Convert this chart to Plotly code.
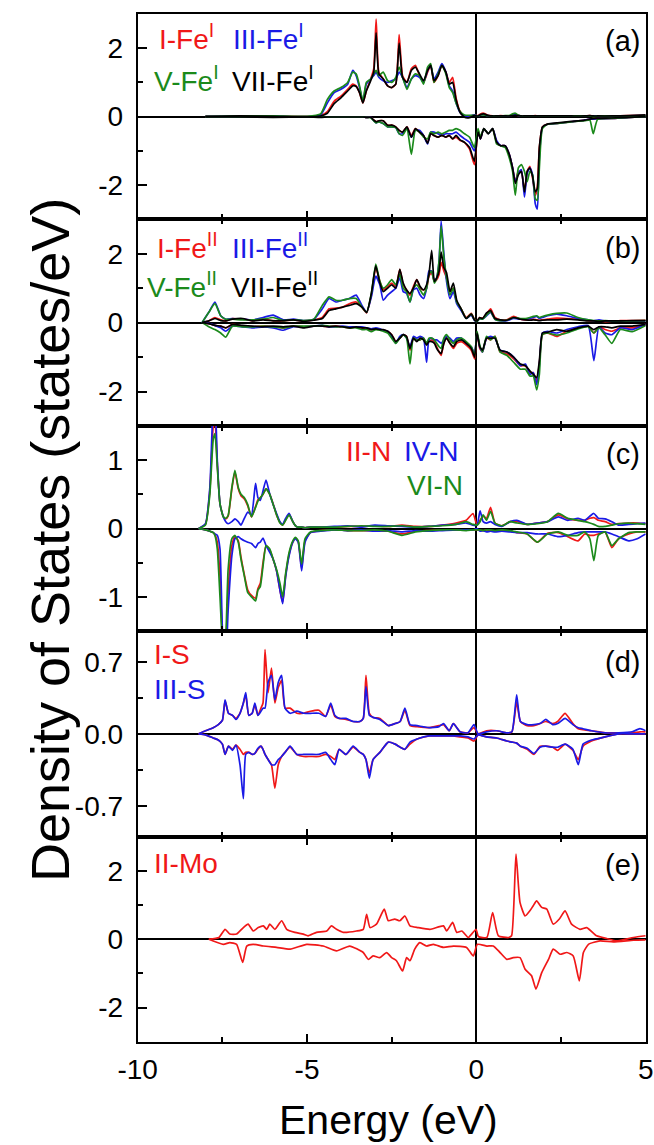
import plotly.graph_objects as go

# ---------------- data: panel (a) Fe^I ----------------
E_a = [-8.0, -7.0, -6.0, -5.0,
       -4.6, -4.4, -4.2, -4.0,
       -3.8, -3.65, -3.55, -3.45, -3.35, -3.25,
       -3.12, -3.03, -2.96, -2.88, -2.75, -2.62,
       -2.5, -2.38, -2.28, -2.18, -2.05, -1.92,
       -1.8, -1.68, -1.56, -1.44, -1.35, -1.25,
       -1.13, -1.02, -0.9, -0.8, -0.7, -0.6,
       -0.48, -0.35, -0.2, -0.06, 0.05, 0.12,
       0.22, 0.35, 0.48, 0.6, 0.72, 0.85,
       0.97, 1.07, 1.15, 1.24, 1.33, 1.42,
       1.5, 1.58, 1.66, 1.74, 1.8, 1.86,
       1.95, 2.1, 2.4, 2.8, 3.2, 3.35,
       3.45, 3.58, 4.0, 4.5, 5.0]
a_up_I = [0.0, 0.02, 0.02, 0.01,
          0.03, 0.15, 0.45, 0.6,
          0.8, 0.95, 0.9, 0.7, 0.4, 0.75,
          1.1, 1.4, 2.85, 1.3, 1.1, 0.9,
          0.85, 0.95, 2.4, 1.2, 1.0, 1.4,
          1.5, 1.2, 1.0, 1.3, 1.5, 1.0,
          1.2, 1.5, 1.3, 1.0, 1.15, 0.55,
          0.15, 0.02, 0.0, 0.05, 0.03, 0.08,
          0.1, 0.04, 0.02, 0.02, 0.03, 0.02,
          0.02, 0.04, 0.05, 0.03, 0.02, 0.02,
          0.02, 0.02, 0.02, 0.03, 0.02, 0.02,
          0.02, 0.02, 0.02, 0.02, 0.02, 0.03,
          0.02, 0.02, 0.02, 0.03, 0.04]
a_up_VII = [0.0, 0.02, 0.01, -0.01,
            0.02, 0.1, 0.38, 0.55,
            0.75, 0.9, 0.88, 0.7, 0.4, 0.75,
            1.05, 1.3, 2.45, 1.25, 1.1, 0.9,
            0.85, 0.95, 2.15, 1.15, 1.0, 1.35,
            1.45, 1.25, 1.05, 1.35, 1.5, 1.05,
            1.2, 1.5, 1.3, 0.95, 1.0, 0.5,
            0.12, -0.02, -0.03, 0.03, 0.02, 0.06,
            0.08, 0.03, 0.02, 0.02, 0.02, 0.02,
            0.02, 0.03, 0.04, 0.03, 0.02, 0.02,
            0.02, 0.02, 0.02, 0.02, 0.02, 0.02,
            0.02, 0.02, 0.02, 0.02, 0.02, 0.03,
            0.02, 0.02, 0.02, 0.03, 0.05]
a_up_III = [0.0, 0.02, 0.02, 0.0,
            0.05, 0.4, 0.7, 0.8,
            0.95, 1.35, 1.2, 0.85, 0.45, 0.95,
            1.1, 1.2, 1.3, 1.15, 1.05, 1.0,
            1.05, 1.1, 1.3, 1.15, 0.85, 1.1,
            1.2, 1.15, 1.0, 1.35, 1.5, 1.1,
            1.3, 1.55, 1.3, 0.9, 0.75, 0.4,
            0.12, 0.02, 0.02, 0.05, 0.02, 0.05,
            0.05, 0.03, 0.02, 0.02, 0.02, 0.02,
            0.02, 0.04, 0.06, 0.03, 0.02, 0.02,
            0.02, 0.02, 0.02, 0.02, 0.02, 0.02,
            0.02, 0.02, 0.02, 0.02, 0.02, 0.02,
            0.02, 0.02, 0.02, 0.02, 0.03]
a_up_V = [0.0, 0.02, 0.02, 0.01,
          0.08, 0.5, 0.75, 0.85,
          1.0, 1.3, 1.25, 0.9, 0.45, 1.0,
          1.1, 1.25, 1.35, 1.2, 1.3, 1.05,
          1.0, 1.15, 1.45, 1.15, 0.8, 1.1,
          1.25, 1.2, 0.95, 1.45, 1.55, 1.0,
          1.25, 1.5, 1.25, 0.85, 0.7, 0.4,
          0.15, 0.05, 0.04, 0.04, 0.02, 0.05,
          0.05, 0.03, 0.02, 0.02, 0.02, 0.03,
          0.03, 0.08, 0.1, 0.04, 0.02, 0.02,
          0.02, 0.02, 0.02, 0.02, 0.02, 0.02,
          0.02, 0.02, 0.02, 0.02, 0.02, 0.02,
          0.0, 0.02, 0.02, 0.02, 0.02]
a_dn_I = [0.0, -0.01, -0.01, -0.01,
          -0.01, -0.01, -0.01, -0.01,
          -0.01, -0.01, -0.01, -0.01, -0.01, -0.02,
          -0.02, -0.1, -0.15, -0.12, -0.12, -0.25,
          -0.25, -0.3, -0.4, -0.45, -0.3, -0.55,
          -0.35, -0.45, -0.55, -0.75, -0.5, -0.55,
          -0.6, -0.55, -0.6, -0.55, -0.65, -0.6,
          -0.7, -0.75, -0.95, -1.4, -0.4, -0.65,
          -0.35, -0.5, -0.35, -0.75, -0.85, -0.85,
          -1.1, -1.5, -1.9, -1.6, -1.6, -2.2,
          -1.6, -1.45, -1.8, -2.3, -2.05, -0.9,
          -0.3, -0.22, -0.2, -0.15, -0.1, -0.07,
          -0.06, -0.06, -0.05, -0.02, 0.0]
a_dn_VII = [0.0, -0.01, -0.02, -0.01,
            -0.02, -0.01, -0.01, -0.01,
            -0.01, -0.01, -0.01, -0.01, -0.01, -0.02,
            -0.02, -0.1, -0.15, -0.12, -0.12, -0.25,
            -0.25, -0.3, -0.4, -0.45, -0.3, -0.6,
            -0.35, -0.45, -0.55, -0.78, -0.5, -0.55,
            -0.6, -0.55, -0.6, -0.55, -0.65, -0.55,
            -0.68, -0.75, -0.9, -1.3, -0.45, -0.65,
            -0.35, -0.5, -0.35, -0.75, -0.85, -0.85,
            -1.1, -1.5, -1.95, -1.7, -1.6, -2.2,
            -1.6, -1.5, -1.75, -2.2, -2.1, -0.9,
            -0.3, -0.22, -0.18, -0.14, -0.1, -0.07,
            -0.06, -0.05, -0.04, -0.02, 0.0]
a_dn_III = [0.0, -0.01, -0.01, -0.01,
            -0.01, -0.01, -0.01, -0.01,
            -0.01, -0.01, -0.01, -0.01, -0.01, -0.02,
            -0.02, -0.12, -0.18, -0.15, -0.2, -0.3,
            -0.3, -0.32, -0.5, -0.5, -0.32, -0.6,
            -0.4, -0.4, -0.55, -0.8, -0.45, -0.45,
            -0.5, -0.55, -0.5, -0.5, -0.5, -0.45,
            -0.55, -0.65, -0.75, -1.0, -0.45, -0.65,
            -0.35, -0.5, -0.35, -0.7, -0.85, -0.85,
            -1.1, -1.5, -1.9, -1.65, -1.55, -2.35,
            -1.65, -1.5, -1.7, -2.55, -2.7, -1.2,
            -0.32, -0.22, -0.2, -0.15, -0.1, -0.07,
            -0.07, -0.06, -0.05, -0.02, 0.0]
a_dn_V = [0.0, -0.01, -0.01, -0.01,
          -0.01, -0.01, -0.01, -0.01,
          -0.01, -0.01, -0.01, -0.01, -0.01, -0.02,
          -0.03, -0.12, -0.18, -0.15, -0.2, -0.3,
          -0.3, -0.32, -0.5, -0.55, -0.35, -1.1,
          -0.4, -0.45, -0.6, -0.65, -0.45, -0.5,
          -0.45, -0.5, -0.45, -0.4, -0.4, -0.35,
          -0.4, -0.5, -0.6, -0.9, -0.35, -0.6,
          -0.35, -0.5, -0.35, -0.8, -0.85, -0.9,
          -1.2, -1.6, -2.3, -1.5, -1.4, -1.6,
          -1.9, -1.6, -1.7, -2.4, -2.45, -1.5,
          -0.35, -0.22, -0.2, -0.15, -0.12, -0.1,
          -0.5, -0.08, -0.05, -0.02, 0.0]

# ---------------- data: panel (b) Fe^II ----------------
E_b = [-8.1, -7.9, -7.72, -7.55, -7.4, -7.2,
       -6.9, -6.6, -6.3, -6.0, -5.7, -5.4,
       -5.1, -4.8, -4.55, -4.35, -4.15, -3.95,
       -3.75, -3.55, -3.38, -3.24, -3.1, -2.97,
       -2.85, -2.75, -2.62, -2.5, -2.38, -2.26,
       -2.16, -2.06, -1.96, -1.86, -1.76, -1.66,
       -1.56, -1.47, -1.4, -1.32, -1.24, -1.17,
       -1.1, -1.04, -0.96, -0.88, -0.78, -0.68,
       -0.58, -0.45, -0.3, -0.15, -0.05, 0.02,
       0.1, 0.18, 0.3, 0.42, 0.55, 0.7,
       0.9, 1.1, 1.3, 1.45, 1.58, 1.68,
       1.78, 1.86, 1.95, 2.1, 2.37, 2.67,
       3.0, 3.3, 3.47, 3.62, 3.8, 4.0,
       4.25, 4.6, 5.0]
b_up_I = [0.0, 0.05, 0.15, 0.08, 0.05, 0.12,
          0.1, 0.06, 0.1, 0.06, 0.05, 0.08,
          0.05, 0.08, 0.15, 0.4, 0.42, 0.45,
          0.55, 0.6, 0.45, 0.28, 0.8, 1.6,
          1.2, 0.95, 1.05, 1.15, 1.05, 1.55,
          1.1, 0.95, 0.8, 1.05, 1.25, 1.0,
          0.95, 1.0, 1.35, 1.45, 1.2, 1.25,
          1.4, 1.75, 1.5, 1.3, 0.9, 1.0,
          0.6, 0.4, 0.15, 0.27, 0.08, 0.05,
          0.15, 0.12, 0.25, 0.4, 0.15, 0.08,
          0.08, 0.18, 0.1, 0.08, 0.08, 0.1,
          0.08, 0.07, 0.08, 0.1, 0.13, 0.12,
          0.1, 0.06, 0.05, 0.05, 0.03, 0.04,
          0.06, 0.06, 0.07]
b_up_VII = [0.0, 0.05, 0.12, 0.06, 0.05, 0.1,
            0.12, 0.05, 0.08, 0.05, 0.06, 0.08,
            0.04, 0.07, 0.12, 0.35, 0.4, 0.45,
            0.5, 0.55, 0.45, 0.3, 0.85, 1.65,
            1.15, 0.9, 1.0, 1.1, 1.0, 1.55,
            1.15, 0.95, 0.85, 1.0, 1.25, 1.05,
            0.95, 1.1, 1.4, 2.1, 1.2, 1.3,
            1.5, 2.05, 1.6, 1.45, 0.9, 1.15,
            0.65, 0.4, 0.12, 0.25, 0.07, 0.05,
            0.15, 0.12, 0.28, 0.35, 0.12, 0.08,
            0.07, 0.15, 0.1, 0.08, 0.07, 0.08,
            0.07, 0.06, 0.07, 0.08, 0.08, 0.1,
            0.08, 0.05, 0.05, 0.04, 0.05, 0.05,
            0.05, 0.06, 0.06]
b_up_III = [0.0, 0.3, 0.6, 0.2, 0.1, 0.12,
            0.1, 0.08, 0.15, 0.22, 0.08, 0.1,
            0.06, 0.1, 0.4, 0.7, 0.6, 0.65,
            0.7, 0.8, 0.5, 0.3, 0.75, 1.35,
            1.1, 0.65, 0.8, 0.9, 1.0, 1.3,
            0.9, 0.85, 0.6, 0.95, 1.0, 0.8,
            0.7, 1.0, 1.5, 1.5, 1.2, 1.3,
            1.8, 2.95, 2.0, 1.2, 0.7, 0.9,
            0.55, 0.35, 0.12, 0.22, 0.06, 0.04,
            0.12, 0.1, 0.2, 0.3, 0.1, 0.06,
            0.06, 0.12, 0.1, 0.1, 0.12, 0.15,
            0.18, 0.12, 0.15, 0.2, 0.25, 0.2,
            0.12, 0.08, 0.05, 0.08, 0.05, 0.04,
            0.05, 0.05, 0.05]
b_up_V = [0.0, 0.3, 0.55, 0.2, 0.1, 0.1,
          0.08, 0.08, 0.1, 0.15, 0.06, 0.08,
          0.06, 0.1, 0.5, 0.75, 0.65, 0.65,
          0.7, 0.7, 0.45, 0.3, 0.85, 1.7,
          1.2, 1.0, 1.1, 1.25, 1.1, 1.4,
          1.0, 0.9, 0.6, 1.0, 1.1, 0.95,
          0.8, 1.0, 1.4, 1.5, 1.15, 1.3,
          1.8, 2.8, 1.9, 1.3, 0.8, 1.0,
          0.6, 0.4, 0.12, 0.25, 0.07, 0.04,
          0.12, 0.1, 0.22, 0.32, 0.1, 0.06,
          0.07, 0.15, 0.12, 0.12, 0.15, 0.18,
          0.2, 0.15, 0.18, 0.22, 0.27, 0.28,
          0.15, 0.08, 0.06, 0.05, 0.06, 0.05,
          0.05, 0.05, 0.06]
b_dn_I = [0.0, -0.03, -0.08, -0.1, -0.15, -0.05,
          -0.1, -0.12, -0.1, -0.12, -0.15, -0.1,
          -0.12, -0.1, -0.1, -0.12, -0.1, -0.12,
          -0.15, -0.12, -0.15, -0.18, -0.2, -0.18,
          -0.2, -0.22, -0.25, -0.35, -0.55, -0.45,
          -0.35, -0.4, -0.8, -0.45, -0.5, -0.5,
          -0.45, -0.6, -0.55, -0.5, -0.55, -0.7,
          -0.85, -0.95, -0.6, -0.45, -0.6, -0.75,
          -0.6, -0.55, -0.65, -0.8, -1.05, -0.3,
          -0.75, -0.85, -0.45, -0.5, -0.4, -0.85,
          -0.9, -1.05, -1.25, -1.25, -1.45, -1.45,
          -1.7, -1.2, -0.35, -0.3, -0.4, -0.25,
          -0.15, -0.1, -0.3, -0.12, -0.2, -0.25,
          -0.15, -0.15, -0.05]
b_dn_VII = [0.0, -0.03, -0.08, -0.1, -0.15, -0.05,
            -0.08, -0.1, -0.12, -0.1, -0.12, -0.1,
            -0.15, -0.1, -0.1, -0.12, -0.1, -0.12,
            -0.15, -0.12, -0.15, -0.15, -0.2, -0.18,
            -0.2, -0.2, -0.25, -0.35, -0.55, -0.45,
            -0.35, -0.4, -0.75, -0.45, -0.55, -0.45,
            -0.5, -0.65, -0.55, -0.55, -0.6, -0.75,
            -0.85, -0.9, -0.6, -0.45, -0.6, -0.7,
            -0.55, -0.5, -0.6, -0.75, -1.0, -0.3,
            -0.7, -0.8, -0.45, -0.45, -0.45, -0.8,
            -0.85, -1.0, -1.2, -1.25, -1.4, -1.5,
            -1.6, -1.1, -0.3, -0.28, -0.2, -0.25,
            -0.15, -0.1, -0.2, -0.12, -0.12, -0.15,
            -0.1, -0.1, -0.05]
b_dn_III = [0.0, -0.02, -0.08, -0.15, -0.25, -0.1,
            -0.12, -0.15, -0.12, -0.15, -0.22, -0.12,
            -0.12, -0.1, -0.08, -0.12, -0.12, -0.1,
            -0.12, -0.12, -0.12, -0.15, -0.18, -0.15,
            -0.18, -0.22, -0.25, -0.4, -0.6, -0.4,
            -0.35, -0.45, -0.7, -0.4, -0.45, -0.4,
            -0.45, -1.15, -0.5, -0.45, -0.5, -0.5,
            -0.55, -0.6, -0.5, -0.4, -0.45, -0.55,
            -0.45, -0.45, -0.6, -0.7, -0.9, -0.3,
            -0.7, -0.85, -0.45, -0.4, -0.45, -0.8,
            -0.85, -1.0, -1.25, -1.2, -1.5, -1.45,
            -1.8, -1.25, -0.3, -0.25, -0.3, -0.2,
            -0.12, -0.08, -1.1, -0.12, -0.3, -0.35,
            -0.15, -0.2, -0.05]
b_dn_V = [0.0, -0.12, -0.2, -0.3, -0.42, -0.1,
          -0.12, -0.12, -0.1, -0.12, -0.15, -0.1,
          -0.1, -0.1, -0.08, -0.1, -0.12, -0.12,
          -0.15, -0.15, -0.2, -0.2, -0.26, -0.2,
          -0.22, -0.25, -0.3, -0.45, -0.6, -0.45,
          -0.35, -0.45, -1.2, -0.45, -0.5, -0.5,
          -0.45, -0.6, -0.45, -0.45, -0.5, -0.6,
          -0.7, -0.75, -0.45, -0.35, -0.5, -0.6,
          -0.5, -0.45, -0.55, -0.7, -0.95, -0.25,
          -0.65, -0.85, -0.4, -0.5, -0.4, -0.85,
          -0.95, -1.15, -1.35, -1.35, -1.55, -1.55,
          -1.95, -1.5, -0.35, -0.3, -0.36, -0.3,
          -0.18, -0.12, -0.3, -0.15, -0.35, -0.6,
          -0.2, -0.26, -0.08]

# ---------------- data: panel (c) N ----------------
E_c = [-8.2, -8.0, -7.87, -7.77, -7.72, -7.65,
       -7.57, -7.47, -7.4, -7.33, -7.22, -7.13,
       -7.03, -6.95, -6.85, -6.75, -6.64, -6.52,
       -6.45, -6.38, -6.3, -6.21, -6.1, -6.0,
       -5.9, -5.8, -5.72, -5.63, -5.53, -5.42,
       -5.34, -5.26, -5.16, -5.06, -4.9, -4.6,
       -4.2, -3.8, -3.4, -3.0, -2.6, -2.2,
       -1.8, -1.4, -1.0, -0.6, -0.3, -0.1,
       0.02, 0.11, 0.2, 0.3, 0.42, 0.55,
       0.75, 1.0, 1.2, 1.5, 1.8, 2.1,
       2.42, 2.7, 3.0, 3.2, 3.35, 3.47,
       3.6, 3.8, 4.0, 4.2, 4.5, 4.75,
       5.0]
c_up_II = [0.0, 0.06, 0.55, 1.5, 1.6, 0.95,
           0.36, 0.17, 0.14, 0.18, 0.58, 0.83,
           0.58, 0.48, 0.43, 0.33, 0.17, 0.32,
           0.42, 0.45, 0.5, 0.58, 0.5, 0.36,
           0.2, 0.09, 0.05, 0.13, 0.21, 0.1,
           0.04, 0.02, 0.02, 0.01, 0.02, 0.02,
           0.02, 0.03, 0.03, 0.04, 0.03, 0.05,
           0.03, 0.03, 0.05, 0.08, 0.12, 0.22,
           0.05, 0.12, 0.18, 0.15, 0.31, 0.08,
           0.04, 0.1, 0.1, 0.06, 0.08, 0.1,
           0.2, 0.14, 0.12, 0.12, 0.15, 0.16,
           0.12, 0.1, 0.06, 0.07, 0.08, 0.08,
           0.07]
c_up_IV = [0.0, 0.07, 0.6, 1.8, 1.9, 1.0,
           0.36, 0.17, 0.1, 0.07, 0.1, 0.14,
           0.1, 0.05, 0.15, 0.24, 0.2, 0.66,
           0.45, 0.41, 0.55, 0.71, 0.5, 0.35,
           0.22, 0.1, 0.06, 0.15, 0.22, 0.1,
           0.04, 0.02, 0.02, 0.01, 0.02, 0.02,
           0.03, 0.04, 0.02, 0.05, 0.04, 0.03,
           0.02, 0.03, 0.05, 0.06, 0.08, 0.05,
           0.05, 0.26, 0.1, 0.08, 0.1, 0.06,
           0.03, 0.1, 0.12, 0.06, 0.08, 0.1,
           0.17, 0.12, 0.15, 0.12, 0.18, 0.22,
           0.15, 0.14, 0.1, 0.05, 0.06, 0.07,
           0.08]
c_up_VI = [0.0, 0.05, 0.5, 1.3, 1.39, 0.9,
           0.36, 0.17, 0.15, 0.19, 0.6, 0.85,
           0.6, 0.5, 0.45, 0.35, 0.17, 0.31,
           0.4, 0.45, 0.5, 0.58, 0.5, 0.35,
           0.2, 0.08, 0.05, 0.12, 0.2, 0.1,
           0.04, 0.02, 0.02, 0.01, 0.02, 0.02,
           0.02, 0.03, 0.04, 0.03, 0.03, 0.04,
           0.02, 0.03, 0.04, 0.06, 0.1, 0.06,
           0.05, 0.1, 0.2, 0.12, 0.25, 0.08,
           0.04, 0.1, 0.08, 0.06, 0.07, 0.1,
           0.22, 0.15, 0.12, 0.1, 0.08, 0.06,
           0.03, 0.03, 0.05, 0.07, 0.08, 0.07,
           0.06]
c_dn_II = [0.0, -0.02, -0.04, -0.06, -0.09, -0.2,
           -0.7, -1.85, -1.7, -0.9, -0.25, -0.12,
           -0.18, -0.42, -0.68, -0.9, -0.98, -1.02,
           -0.88, -0.8, -0.5, -0.25, -0.32, -0.45,
           -0.62, -0.9, -1.08, -0.68, -0.38, -0.2,
           -0.14, -0.19, -0.58, -0.18, -0.06, -0.03,
           -0.02, -0.03, -0.03, -0.03, -0.04, -0.08,
           -0.04, -0.03, -0.02, -0.02, -0.02, -0.02,
           -0.02, -0.03, -0.03, -0.02, -0.03, -0.04,
           -0.03, -0.04, -0.06, -0.08, -0.2, -0.07,
           -0.06, -0.12, -0.18, -0.08, -0.1, -0.1,
           -0.08, -0.05, -0.28, -0.15, -0.08, -0.05,
           -0.05]
c_dn_IV = [0.0, -0.02, -0.04, -0.06, -0.08, -0.1,
           -0.3, -1.8, -1.9, -1.2, -0.4, -0.15,
           -0.12, -0.15, -0.18, -0.2, -0.22, -0.28,
           -0.22, -0.2, -0.14, -0.25, -0.35, -0.45,
           -0.62, -0.9, -1.1, -0.7, -0.4, -0.2,
           -0.15, -0.2, -0.62, -0.2, -0.06, -0.04,
           -0.02, -0.03, -0.02, -0.04, -0.03, -0.05,
           -0.03, -0.04, -0.03, -0.02, -0.02, -0.02,
           0.0, -0.04, -0.03, -0.05, -0.04, -0.05,
           -0.04, -0.05, -0.06, -0.06, -0.08, -0.08,
           -0.12, -0.1, -0.06, -0.05, -0.05, -0.05,
           -0.05, -0.05, -0.08, -0.12, -0.18, -0.15,
           -0.08]
c_dn_VI = [0.0, -0.02, -0.04, -0.06, -0.1, -0.3,
           -1.0, -1.9, -1.6, -0.6, -0.15, -0.1,
           -0.2, -0.45, -0.7, -0.94, -1.0, -1.06,
           -0.9, -0.85, -0.55, -0.25, -0.3, -0.45,
           -0.6, -0.8, -1.0, -0.65, -0.35, -0.18,
           -0.13, -0.18, -0.52, -0.15, -0.05, -0.03,
           -0.02, -0.03, -0.03, -0.02, -0.04, -0.1,
           -0.05, -0.03, -0.02, -0.02, -0.03, -0.02,
           -0.02, -0.02, -0.03, -0.02, -0.02, -0.03,
           -0.02, -0.03, -0.05, -0.08, -0.2, -0.08,
           -0.05, -0.1, -0.1, -0.05, -0.15, -0.47,
           -0.1, -0.05, -0.25, -0.15, -0.06, -0.05,
           -0.05]

# ---------------- data: panel (d) S ----------------
E_d = [-8.2, -8.0, -7.77, -7.62, -7.5, -7.42,
       -7.32, -7.2, -7.1, -6.98, -6.88, -6.81,
       -6.72, -6.62, -6.54, -6.45, -6.36, -6.3,
       -6.24, -6.15, -6.05, -5.95, -5.85, -5.75,
       -5.65, -5.5, -5.3, -5.1, -4.9, -4.65,
       -4.45, -4.3, -4.18, -4.05, -3.85, -3.64,
       -3.44, -3.34, -3.26, -3.16, -3.05, -2.85,
       -2.6, -2.4, -2.25, -2.11, -1.96, -1.75,
       -1.4, -1.1, -0.97, -0.8, -0.68, -0.48,
       -0.25, -0.07, 0.05, 0.3, 0.6, 0.9,
       1.05, 1.19, 1.3, 1.5, 1.7, 1.88,
       2.05, 2.25, 2.4, 2.62, 2.85, 3.01,
       3.15, 3.4, 3.8, 4.2, 4.6, 4.83,
       5.0]
d_up_I = [0.0, 0.03, 0.06, 0.09, 0.13, 0.32,
          0.2, 0.18, 0.15, 0.2, 0.3, 0.38,
          0.18, 0.2, 0.28, 0.18, 0.25, 0.3,
          0.82, 0.4, 0.64, 0.3, 0.45, 0.52,
          0.25, 0.25, 0.2, 0.2, 0.22, 0.23,
          0.17, 0.28, 0.17, 0.15, 0.14, 0.12,
          0.12, 0.15, 0.57, 0.2, 0.16, 0.15,
          0.08, 0.1, 0.12, 0.23, 0.08, 0.07,
          0.06, 0.08, 0.09, 0.03, 0.1, 0.02,
          0.01, 0.06, 0.0, 0.03, 0.03, 0.01,
          0.02, 0.31, 0.12, 0.08, 0.08, 0.1,
          0.12, 0.1, 0.12, 0.2, 0.1, 0.05,
          0.04, 0.03, 0.01, 0.01, 0.01, 0.02,
          0.02]
d_up_III = [0.0, 0.03, 0.06, 0.09, 0.13, 0.33,
            0.2, 0.18, 0.14, 0.2, 0.3, 0.4,
            0.18, 0.2, 0.3, 0.18, 0.22, 0.25,
            0.25, 0.5, 0.57, 0.33, 0.5, 0.57,
            0.25, 0.2, 0.22, 0.2, 0.2, 0.2,
            0.17, 0.3, 0.18, 0.15, 0.15, 0.12,
            0.12, 0.15, 0.46, 0.18, 0.16, 0.14,
            0.08, 0.1, 0.12, 0.25, 0.09, 0.08,
            0.06, 0.07, 0.1, 0.03, 0.1, 0.02,
            0.01, 0.09, 0.0, 0.02, 0.03, 0.01,
            0.02, 0.38, 0.12, 0.09, 0.09, 0.1,
            0.14, 0.09, 0.1, 0.15, 0.09, 0.06,
            0.05, 0.03, 0.01, 0.01, 0.02, 0.05,
            0.03]
d_dn_I = [0.0, -0.01, -0.04, -0.06, -0.1, -0.2,
          -0.12, -0.15, -0.11, -0.15, -0.2, -0.18,
          -0.18, -0.2, -0.19, -0.15, -0.12, -0.15,
          -0.2, -0.25, -0.3, -0.53, -0.3, -0.22,
          -0.18, -0.13, -0.2, -0.22, -0.22, -0.22,
          -0.2, -0.22, -0.25, -0.15, -0.2, -0.13,
          -0.18, -0.2, -0.25, -0.38, -0.25, -0.18,
          -0.08, -0.1, -0.13, -0.15, -0.1, -0.05,
          -0.02, -0.02, -0.02, -0.02, -0.02, -0.03,
          -0.04, -0.07, -0.01, -0.03, -0.04, -0.07,
          -0.08, -0.09, -0.12, -0.15, -0.2, -0.12,
          -0.12, -0.13, -0.16, -0.1, -0.16, -0.25,
          -0.12, -0.07, -0.03, 0.0, 0.0, 0.0,
          0.0]
d_dn_III = [0.0, -0.01, -0.04, -0.06, -0.1, -0.2,
            -0.12, -0.16, -0.11, -0.3, -0.63, -0.2,
            -0.18, -0.2, -0.19, -0.14, -0.12, -0.15,
            -0.2, -0.25, -0.3, -0.3, -0.25, -0.22,
            -0.18, -0.12, -0.2, -0.2, -0.2, -0.2,
            -0.18, -0.25, -0.3, -0.15, -0.2, -0.12,
            -0.18, -0.2, -0.25, -0.43, -0.25, -0.18,
            -0.08, -0.1, -0.13, -0.15, -0.08, -0.05,
            -0.02, -0.02, -0.02, -0.02, -0.02, -0.02,
            -0.03, -0.05, -0.01, -0.03, -0.04, -0.07,
            -0.08, -0.09, -0.12, -0.14, -0.19, -0.13,
            -0.12, -0.13, -0.13, -0.1, -0.15, -0.3,
            -0.1, -0.06, -0.03, 0.0, 0.0, 0.0,
            0.0]

# ---------------- data: panel (e) Mo ----------------
E_e_up = [-7.9, -7.6, -7.42, -7.28, -7.08, -6.88,
          -6.74, -6.59, -6.44, -6.29, -6.19, -6.1,
          -5.95, -5.75, -5.6, -5.36, -5.11, -4.97,
          -4.72, -4.42, -4.28, -4.13, -3.93, -3.54,
          -3.34, -3.24, -3.14, -2.95, -2.72, -2.6,
          -2.41, -2.26, -2.11, -1.96, -1.72, -1.37,
          -0.97, -0.88, -0.7, -0.58, -0.43, -0.24,
          -0.14, -0.01, 0.06, 0.31, 0.48, 0.65,
          0.95, 1.04, 1.17, 1.29, 1.44, 1.58,
          1.68, 1.78, 1.93, 2.08, 2.27, 2.45,
          2.62, 2.81, 3.06, 3.26, 3.55, 3.85,
          4.14, 4.64, 5.0]
e_up_II = [0.0, 0.05, 0.29, 0.15, 0.15, 0.34,
           0.44, 0.24, 0.34, 0.39, 0.29, 0.44,
           0.29, 0.54, 0.29, 0.2, 0.15, 0.1,
           0.2, 0.24, 0.39, 0.29, 0.2, 0.24,
           0.29, 0.73, 0.34, 0.44, 0.88, 0.54,
           0.59, 0.54, 0.68, 0.39, 0.34, 0.29,
           0.39, 0.24, 0.49, 0.2, 0.24, 0.05,
           0.15, 0.29, 0.08, 0.05, 0.78, 0.1,
           0.05, 0.1, 2.49, 1.07, 0.68, 0.83,
           0.98, 1.12, 0.93, 0.88, 0.44, 0.59,
           0.83, 0.44, 0.29, 0.34, 0.1, 0.02,
           -0.05, 0.05, 0.1]
E_e_dn = [-7.9, -7.47, -7.28, -7.08, -6.9, -6.78,
          -6.59, -6.29, -5.9, -5.5, -5.01, -4.52,
          -4.13, -3.74, -3.34, -3.19, -3.05, -2.85,
          -2.65, -2.5, -2.36, -2.18, -2.06, -1.96,
          -1.82, -1.67, -1.47, -1.27, -0.97, -0.68,
          -0.29, -0.09, 0.03, 0.31, 0.5, 0.7,
          0.9, 1.09, 1.29, 1.44, 1.63, 1.76,
          1.93, 2.13, 2.27, 2.47, 2.67, 2.86,
          3.04, 3.16, 3.31, 3.65, 4.04, 4.64,
          5.0]
e_dn_II = [0.0, -0.15, -0.1, -0.15, -0.68, -0.2,
           -0.15, -0.2, -0.24, -0.29, -0.15, -0.2,
           -0.34, -0.2, -0.39, -0.59, -0.49, -0.54,
           -0.39, -0.54, -0.63, -0.93, -0.54, -0.63,
           -0.29, -0.1, -0.2, -0.15, -0.24, -0.2,
           -0.24, -0.49, -0.15, -0.2, -0.2, -0.39,
           -0.59, -0.54, -0.54, -0.88, -1.07, -1.46,
           -0.98, -0.59, -0.29, -0.44, -0.39, -0.49,
           -1.22, -0.39, -0.15, -0.05, -0.08, -0.03,
           -0.02]

# ---------------- axes / labels ----------------
x_range = [-10, 5]
x_tickvals = [-10, -5, 0, 5]
x_ticktext = ["-10", "-5", "0", "5"]
y_ranges = [[-3, 3], [-3, 3], [-1.5, 1.5], [-1, 1], [-3, 3]]
y_tickvals = [[-2, 0, 2], [-2, 0, 2], [-1, 0, 1], [-0.7, 0, 0.7], [-2, 0, 2]]
y_ticktext = [["-2", "0", "2"], ["-2", "0", "2"], ["-1", "0", "1"],
              ["-0.7", "0.0", "0.7"], ["-2", "0", "2"]]
y_minor_dtick = [1, 1, 0.5, 0.35, 1]
panel_tags = ["(a)", "(b)", "(c)", "(d)", "(e)"]

RED = "#f01818"
BLUE = "#1a1ae6"
GREEN = "#1b8a1b"
BLACK = "#000000"

series = [
    (1, E_a, [(a_up_I, a_dn_I, RED), (a_up_III, a_dn_III, BLUE),
              (a_up_V, a_dn_V, GREEN), (a_up_VII, a_dn_VII, BLACK)]),
    (2, E_b, [(b_up_I, b_dn_I, RED), (b_up_III, b_dn_III, BLUE),
              (b_up_V, b_dn_V, GREEN), (b_up_VII, b_dn_VII, BLACK)]),
    (3, E_c, [(c_up_II, c_dn_II, RED), (c_up_IV, c_dn_IV, BLUE),
              (c_up_VI, c_dn_VI, GREEN)]),
    (4, E_d, [(d_up_I, d_dn_I, RED), (d_up_III, d_dn_III, BLUE)]),
]

W, H = 654, 1145
FONT = "Liberation Sans, Arial, Helvetica, sans-serif"
X0, X1 = 137.7, 645.7
panel_px = [(14, 219.3), (219.3, 426), (426, 631), (631, 836.7), (836.7, 1041.7)]


def fx(p):
    return p / W


def fy(p):
    return 1 - p / H


fig = go.Figure()


def add_line(panel, x, y, color):
    assert len(x) == len(y), (panel, len(x), len(y))
    sfx = "" if panel == 1 else str(panel)
    fig.add_trace(go.Scatter(
        x=x, y=y, mode="lines",
        line=dict(color=color, width=1.7, shape="spline", smoothing=0.5),
        xaxis="x" + sfx, yaxis="y" + sfx,
        showlegend=False, hoverinfo="skip"))


for panel, ex, lst in series:
    for up, dn, col in lst:
        add_line(panel, ex, up, col)
        add_line(panel, ex, dn, col)
add_line(5, E_e_up, e_up_II, RED)
add_line(5, E_e_dn, e_dn_II, RED)

layout = dict(
    width=W, height=H,
    margin=dict(l=0, r=0, t=0, b=0, autoexpand=False),
    paper_bgcolor="white", plot_bgcolor="white",
    showlegend=False,
    font=dict(family=FONT, color="black"),
)

for i in range(5):
    sfx = "" if i == 0 else str(i + 1)
    top, bot = panel_px[i]
    layout["xaxis" + sfx] = dict(
        domain=[fx(X0), fx(X1)], range=x_range, anchor="y" + sfx,
        automargin=False,
        showline=True, linecolor="black", linewidth=2,
        mirror=True if i == 0 else "ticks",
        ticks="inside", ticklen=8, tickwidth=2, tickcolor="black",
        tickmode="array", tickvals=x_tickvals, ticktext=x_ticktext,
        showticklabels=(i == 4), tickfont=dict(size=28, family=FONT),
        ticklabelstandoff=2,
        minor=dict(ticks="inside", ticklen=5, tickwidth=1.5, tickcolor="black",
                   tickmode="linear", tick0=0, dtick=2.5),
        showgrid=False, zeroline=True, zerolinecolor="black", zerolinewidth=2,
    )
    layout["yaxis" + sfx] = dict(
        domain=[fy(bot), fy(top)], range=y_ranges[i], anchor="x" + sfx,
        automargin=False,
        showline=True, linecolor="black", linewidth=2, mirror=True,
        ticks="inside", ticklen=9, tickwidth=2, tickcolor="black",
        tickmode="array", tickvals=y_tickvals[i], ticktext=y_ticktext[i],
        tickfont=dict(size=28, family=FONT), ticklabelstandoff=7,
        minor=dict(ticks="inside", ticklen=5, tickwidth=1.5, tickcolor="black",
                   tickmode="linear", tick0=0, dtick=y_minor_dtick[i]),
        showgrid=False, zeroline=True, zerolinecolor="black", zerolinewidth=1.8,
    )

ann = []


def label(text, xpx, ypx, color, size=28, anchor="left"):
    ann.append(dict(text=text, x=fx(xpx), y=fy(ypx), xref="paper", yref="paper",
                    xanchor=anchor, yanchor="middle", showarrow=False,
                    font=dict(size=size, color=color, family=FONT)))


# legends inside panels
label("I-Fe<sup>I</sup>", 157, 37, RED)
label("III-Fe<sup>I</sup>", 231, 37, BLUE)
label("V-Fe<sup>I</sup>", 152, 79, GREEN)
label("VII-Fe<sup>I</sup>", 230, 79, BLACK)
label("I-Fe<sup>II</sup>", 155, 246, RED)
label("III-Fe<sup>II</sup>", 230, 246, BLUE)
label("V-Fe<sup>II</sup>", 145, 285, GREEN)
label("VII-Fe<sup>II</sup>", 229, 285, BLACK)
label("II-N", 344, 451, RED)
label("IV-N", 402, 451, BLUE)
label("VI-N", 405, 485, GREEN)
label("I-S", 152, 654, RED)
label("III-S", 152, 689, BLUE)
label("II-Mo", 152, 863, RED)

tag_y = [41.5, 247.5, 453.5, 662, 865]
for tag, ty in zip(panel_tags, tag_y):
    label(tag, 642, ty, BLACK, size=29, anchor="right")

# axis titles
ann.append(dict(text="Energy (eV)", x=fx(388), y=fy(1120), xref="paper", yref="paper",
                xanchor="center", yanchor="middle", showarrow=False,
                font=dict(size=41, color="black", family=FONT)))
ann.append(dict(text="Density of States (states/eV)", x=fx(50), y=fy(540),
                xref="paper", yref="paper", textangle=-90,
                xanchor="center", yanchor="middle", showarrow=False,
                font=dict(size=54, color="black", family=FONT)))

layout["annotations"] = ann
fig.update_layout(**layout)
fig.write_html("out.html")
